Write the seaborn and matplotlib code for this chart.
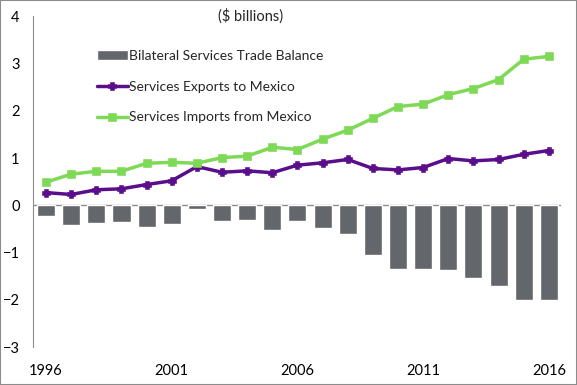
import matplotlib.pyplot as plt
import pandas as pd
import seaborn as sns

years = list(range(1996, 2017))
trade_balance = [-0.22, -0.42, -0.38, -0.36, -0.46, -0.40, -0.08, -0.34, -0.31, -0.52,
                 -0.34, -0.48, -0.61, -1.05, -1.35, -1.35, -1.37, -1.54, -1.71, -2.00, -2.00]
exports = [0.27, 0.23, 0.33, 0.35, 0.44, 0.52, 0.82, 0.70, 0.73, 0.69,
           0.85, 0.90, 0.97, 0.78, 0.75, 0.80, 0.99, 0.94, 0.97, 1.08, 1.16]
imports = [0.49, 0.66, 0.72, 0.72, 0.89, 0.91, 0.89, 1.01, 1.04, 1.23,
           1.18, 1.40, 1.59, 1.84, 2.09, 2.14, 2.34, 2.47, 2.66, 3.09, 3.15]
tick_years = [1996, 2001, 2006, 2011, 2016]

df = pd.DataFrame({"year": years, "balance": trade_balance,
                   "exports": exports, "imports": imports})

sns.set_style("white")
plt.rcParams["font.family"] = ["Lato", "DejaVu Sans"]

fig = plt.figure(figsize=(5.77, 3.85), dpi=100)
ax = fig.add_axes([0.058, 0.098, 0.915, 0.86])

sns.barplot(data=df, x="year", y="balance", color="#63666A", saturation=1,
            width=0.72, ax=ax, label="Bilateral Services Trade Balance")
sns.pointplot(data=df, x="year", y="exports", color="#5B0E8C", markers="P",
              markersize=4, linewidth=2.5, ax=ax, label="Services Exports to Mexico")
sns.pointplot(data=df, x="year", y="imports", color="#7ED957", markers="s",
              markersize=5, linewidth=2.5, ax=ax, label="Services Imports from Mexico")

ax.axhline(0, color="#8C8C8C", lw=1, zorder=0.5)
ax.set_ylim(-3, 4)
ax.set_xlim(-0.5, 20.5)
ax.set_yticks(range(-3, 5))
ax.set_xticks([years.index(y) for y in tick_years])
ax.set_xticklabels([str(y) for y in tick_years])
ax.tick_params(axis="both", length=0, labelsize=10.5, colors="black")
ax.tick_params(axis="y", pad=10)
ax.tick_params(axis="x", pad=12)
ax.set_xlabel("")
ax.set_ylabel("")
for s in ["top", "right", "bottom"]:
    ax.spines[s].set_visible(False)
ax.spines["left"].set_color("#8C8C8C")

ax.text(0.35, 1.0, "($ billions)", transform=ax.transAxes, fontsize=10.5,
        va="center", ha="left")

h, l = ax.get_legend_handles_labels()
order = [l.index("Bilateral Services Trade Balance"),
         l.index("Services Exports to Mexico"),
         l.index("Services Imports from Mexico")]
ax.legend([h[i] for i in order], [l[i] for i in order], loc="upper left",
          bbox_to_anchor=(0.11, 0.915), frameon=False, fontsize=10,
          handlelength=2.2, handletextpad=0.1, labelspacing=1.35, borderaxespad=0)

fig.patches.append(plt.Rectangle((0, 0), 1, 1, transform=fig.transFigure,
                                 fill=False, edgecolor="#8C8C8C", lw=1.5))
fig.savefig("out.png", dpi=100)
